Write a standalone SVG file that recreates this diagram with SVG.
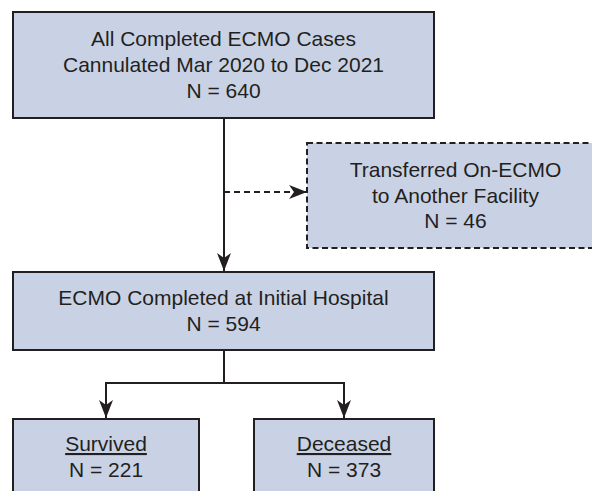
<svg xmlns="http://www.w3.org/2000/svg" width="592" height="491" viewBox="0 0 592 491">
<style>
.box{fill:#c9d2e4;stroke:#231f20;stroke-width:2}
.dash{stroke-dasharray:6 3.5}
.t{font-family:"Liberation Sans",Arial,sans-serif;font-size:21px;fill:#231f20;text-anchor:middle}
.c{fill:none;stroke:#231f20;stroke-width:2}
</style>
<defs>
<marker id="ah" markerUnits="userSpaceOnUse" viewBox="0 0 18 14" refX="18" refY="7" markerWidth="18" markerHeight="14" orient="auto">
<path d="M0,0 L18,7 L0,14 L5,7 z" fill="#231f20"/>
</marker>
</defs>
<rect width="592" height="491" fill="#ffffff"/>
<g id="connectors">
<line class="c" x1="224" y1="118" x2="224" y2="271" marker-end="url(#ah)"/>
<line class="c" x1="224" y1="192" x2="307" y2="192" stroke-dasharray="6 4" marker-end="url(#ah)"/>
<polyline class="c" points="224,350 224,383 106,383 106,418" marker-end="url(#ah)"/>
<polyline class="c" points="224,383 344,383 344,418" marker-end="url(#ah)"/>
</g>
<g id="all-cases">
<rect class="box" x="13" y="12" width="421" height="106"/>
<text class="t" x="223.5" y="46">All Completed ECMO Cases</text>
<text class="t" x="223.5" y="72">Cannulated Mar 2020 to Dec 2021</text>
<text class="t" x="223.5" y="98">N = 640</text>
</g>
<g id="transferred">
<rect class="box dash" x="307" y="143" width="300" height="105"/>
<text class="t" x="455.5" y="177">Transferred On-ECMO</text>
<text class="t" x="455.5" y="203">to Another Facility</text>
<text class="t" x="455.5" y="228">N = 46</text>
</g>
<g id="completed">
<rect class="box" x="13" y="272" width="421" height="78"/>
<text class="t" x="223.5" y="305">ECMO Completed at Initial Hospital</text>
<text class="t" x="223.5" y="331">N = 594</text>
</g>
<g id="survived">
<rect class="box" x="13" y="419" width="186" height="90"/>
<text class="t" x="106" y="451" text-decoration="underline">Survived</text>
<text class="t" x="106" y="477">N = 221</text>
</g>
<g id="deceased">
<rect class="box" x="254" y="419" width="180" height="90"/>
<text class="t" x="344" y="451" text-decoration="underline">Deceased</text>
<text class="t" x="344" y="477">N = 373</text>
</g>
</svg>
